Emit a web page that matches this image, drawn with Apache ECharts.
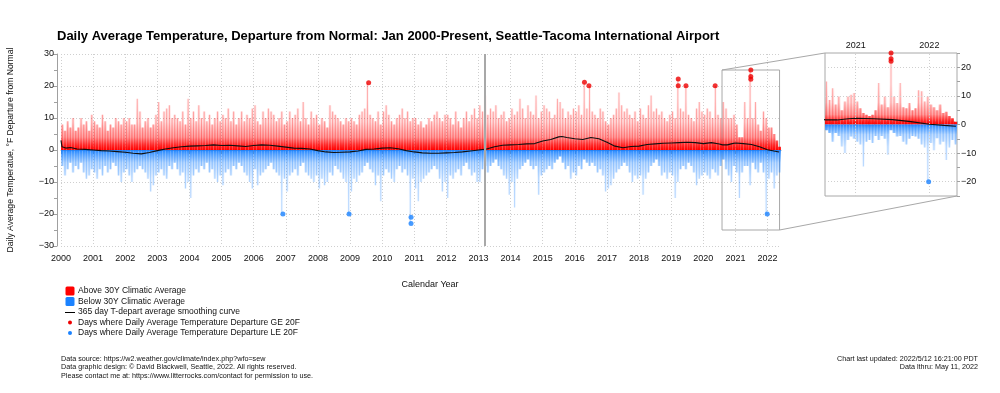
<!DOCTYPE html>
<html><head><meta charset="utf-8">
<script src="https://cdn.jsdelivr.net/npm/echarts@6/dist/echarts.min.js"></script>
<style>html,body{margin:0;padding:0;background:#fff}#c{width:1000px;height:393px}</style>
</head><body><div id="c"></div>
<script>
// ---------------- DATA ----------------
const START_YEAR = 2000;
const YEAR_TICKS = [2000,2001,2002,2003,2004,2005,2006,2007,2008,2009,2010,2011,2012,2013,2014,2015,2016,2017,2018,2019,2020,2021,2022];
// Monthly highest daily departure (°F), Jan 2000 .. May 2022
const MONTHLY_MAX = [
  8,6,9,7,10,6,7,10,8,9,6,11,
  9,8,7,11,9,6,8,7,10,9,8,10,
  9,10,8,8,16,12,7,9,10,7,8,11,
  15,9,12,13,14,10,11,10,9,12,8,16,
  10,12,9,14,10,12,9,11,8,10,12,9,
  11,10,13,9,12,8,10,12,9,11,10,13,
  14,9,8,12,10,13,12,11,9,10,12,8,
  9,12,10,11,13,9,15,10,8,12,10,11,
  8,10,9,7,14,12,11,10,9,8,10,9,
  10,9,8,11,12,13,21,11,10,9,12,8,
  12,14,11,9,8,10,11,13,10,12,9,10,
  10,8,9,7,8,10,9,11,12,10,9,11,
  11,10,8,12,9,7,10,12,9,11,13,10,
  14,12,17,11,13,12,14,10,11,12,9,10,
  13,11,12,16,13,10,14,12,11,17,10,12,
  14,13,12,10,11,16,15,13,10,12,11,13,
  12,14,11,21,13,20,12,11,10,13,12,9,
  8,10,11,13,18,14,12,13,11,10,12,9,
  13,11,10,14,17,12,13,11,12,10,9,11,
  12,10,22,13,12,20,11,10,9,13,15,12,
  11,13,12,10,20,11,10,15,13,10,10,11,
  8,4,4,15,10,25,10,15,8,6,12,10,
  7,7,5,3,1
];
// Monthly lowest daily departure (°F)
const MONTHLY_MIN = [
  -5,-8,-6,-4,-7,-5,-6,-4,-7,-9,-8,-6,
  -7,-9,-6,-8,-5,-7,-6,-4,-5,-8,-10,-7,
  -6,-8,-10,-7,-6,-5,-6,-7,-9,-13,-11,-8,
  -7,-6,-8,-9,-5,-6,-4,-6,-8,-7,-12,-10,
  -15,-8,-6,-7,-5,-6,-4,-7,-6,-9,-10,-8,
  -11,-7,-6,-8,-5,-6,-4,-5,-7,-8,-10,-12,
  -6,-11,-8,-7,-6,-5,-4,-6,-7,-8,-20,-9,
  -13,-8,-7,-6,-8,-5,-4,-7,-8,-9,-10,-8,
  -12,-9,-11,-10,-7,-8,-5,-6,-7,-9,-10,-20,
  -13,-9,-10,-8,-7,-5,-4,-6,-7,-11,-8,-16,
  -8,-6,-7,-9,-10,-6,-5,-7,-6,-8,-23,-9,
  -12,-16,-10,-9,-8,-7,-6,-5,-6,-9,-13,-10,
  -15,-8,-9,-7,-6,-8,-5,-4,-6,-8,-7,-10,
  -10,-6,-5,-7,-5,-4,-3,-5,-6,-8,-9,-14,
  -10,-18,-9,-6,-5,-4,-3,-5,-6,-5,-14,-8,
  -7,-6,-5,-6,-4,-3,-2,-4,-6,-5,-9,-7,
  -8,-5,-6,-3,-4,-5,-4,-5,-7,-6,-8,-13,
  -12,-11,-9,-7,-6,-5,-4,-5,-7,-10,-8,-9,
  -8,-14,-9,-7,-5,-4,-3,-5,-8,-7,-9,-7,
  -8,-15,-10,-6,-5,-6,-4,-5,-7,-11,-9,-8,
  -7,-8,-9,-6,-7,-8,-5,-3,-6,-8,-10,-5,
  -7,-15,-7,-5,-5,-11,-4,-6,-7,-4,-7,-20,
  -9,-7,-12,-8,-7
];
// 365-day smoothing curve
const SMOOTH_X = [2000.0,2000.03,2000.08,2000.15,2000.3,2000.5,2000.75,2001.0,2001.25,2001.5,2001.75,2002.0,2002.25,2002.5,2002.75,2003.0,2003.25,2003.5,2003.75,2004.0,2004.25,2004.5,2004.75,2005.0,2005.25,2005.5,2005.75,2006.0,2006.25,2006.5,2006.75,2007.0,2007.25,2007.5,2007.75,2008.0,2008.25,2008.5,2008.75,2009.0,2009.25,2009.5,2009.75,2010.0,2010.25,2010.5,2010.75,2011.0,2011.25,2011.5,2011.75,2012.0,2012.25,2012.5,2012.75,2013.0,2013.25,2013.5,2013.75,2014.0,2014.25,2014.5,2014.75,2015.0,2015.25,2015.5,2015.6,2015.75,2016.0,2016.25,2016.5,2016.75,2017.0,2017.25,2017.5,2017.75,2018.0,2018.25,2018.5,2018.75,2019.0,2019.25,2019.5,2019.75,2020.0,2020.25,2020.5,2020.6,2020.75,2020.9,2021.0,2021.25,2021.5,2021.75,2022.0,2022.2,2022.36];
const SMOOTH_Y = [3.0,1.0,1.5,0.6,0.8,0.3,0.2,0.0,-0.2,-0.3,-0.5,-0.7,-1.0,-1.2,-0.8,-0.2,0.3,0.7,1.0,1.2,1.3,1.4,1.6,1.4,1.5,1.3,1.1,1.4,1.6,1.5,1.2,0.9,0.6,0.5,0.3,-0.2,-0.6,-0.8,-0.7,-0.6,-0.3,0.2,0.3,0.6,0.7,0.4,-0.2,-0.6,-0.9,-1.0,-1.0,-0.9,-0.8,-0.6,-0.3,0.0,0.3,1.0,1.5,1.6,1.7,1.9,2.0,2.8,3.3,4.1,4.2,3.9,3.5,3.3,3.9,3.5,2.4,1.2,0.7,1.1,1.2,1.7,1.9,2.1,2.2,2.3,2.4,2.3,2.0,2.3,1.9,1.6,1.6,2.0,2.2,2.0,1.7,1.0,0.1,-0.3,-0.6];
// Individual days with departure >= 20F and <= -20F: [year fraction, departure]
const HOT_DAYS = [[2009.58,21],[2016.30,21.2],[2016.44,20.1],[2019.22,22.2],[2019.22,20.1],[2019.46,20.1],[2020.37,20.1],[2021.48,25],[2021.48,23],[2021.48,22.1]];
const COLD_DAYS = [[2006.91,-20],[2008.97,-20],[2010.9,-21],[2010.9,-23],[2021.99,-20]];
// Inset (Aug 2020 - May 2022), half-month highest / lowest departures
const INSET_START = 2020 + 7/12;
const INSET_END = 2022.375;
const INSET_MAX = [15,8.6,12.7,7,9.8,5,8,9.8,10.4,11,8,5.7,4,3.4,3,3.4,5,14.5,7,9.8,6,25,9.8,7.5,14.5,6,5.7,7.5,5,5.7,12,11.6,8,9.8,7,6,5,7,4,4.5,3,2.2,1];
const INSET_MIN = [-2,-3,-6,-3,-4,-7.7,-10,-5.4,-4.2,-5,-6,-7,-14.7,-6,-5.4,-6.5,-4,-5.4,-4,-5,-10.6,-2,-3,-4.2,-4,-6,-7,-5,-4,-4.2,-5,-7,-8,-20,-6.5,-9,-4.8,-7,-6,-12.4,-8,-5.4,-7];
const RED = [255,0,0], BLUE = [26,130,255];

// ---------------- CHART ----------------
const chart = echarts.init(document.getElementById('c'), null, {renderer:'canvas'});
const FONT = 'Liberation Sans, Arial, Helvetica, sans-serif';
const rgba = (c,a) => `rgba(${c[0]},${c[1]},${c[2]},${a})`;
const minus = v => String(v).replace('-', '\u2212');

function barRender(halfW, col, refVal, stops) {
  return function (params, api) {
    const x = api.value(0), v = api.value(1);
    const p0 = api.coord([x - halfW, 0]);
    const p1 = api.coord([x + halfW, v]);
    const ref = api.coord([x, v >= 0 ? refVal : -refVal]);
    const grad = new echarts.graphic.LinearGradient(0, p0[1], 0, ref[1],
      stops.map(s => ({offset: s[0], color: rgba(col, s[1])})), true);
    const top = Math.min(p0[1], p1[1]), h = Math.abs(p1[1] - p0[1]);
    const cx = (p0[0] + p1[0]) / 2;
    return {type: 'group', children: [
      {type: 'rect', shape: {x: p0[0], y: top, width: p1[0] - p0[0], height: h}, style: {fill: grad}},
      {type: 'rect', shape: {x: cx - 0.5, y: top, width: 1, height: h}, style: {fill: rgba(col, 0.3)}}
    ]};
  };
}
const RED_STOPS = [[0, 1], [0.1, 0.8], [0.25, 0.4], [0.55, 0.14], [1, 0.05]];
const BLUE_STOPS = [[0, 0.95], [0.08, 0.7], [0.25, 0.3], [0.55, 0.1], [1, 0.04]];

const monthX = i => START_YEAR + (i + 0.5) / 12;
const posMain = MONTHLY_MAX.map((v, i) => [monthX(i), v]);
const negMain = MONTHLY_MIN.map((v, i) => [monthX(i), v]);
const halfX = i => INSET_START + (i + 0.5) / 24;
const posInset = INSET_MAX.map((v, i) => [halfX(i), v]);
const negInset = INSET_MIN.map((v, i) => [halfX(i), v]);
const smooth = SMOOTH_X.map((x, i) => [x, SMOOTH_Y[i]]);

const gridDot = {show: true, lineStyle: {color: '#cfcfcf', type: [1, 2], width: 1}};
const axisGray = {show: true, lineStyle: {color: '#a0a0a0', width: 1}};
const lab = {color: '#111', fontSize: 9, fontFamily: FONT};

const option = {
  animation: false,
  backgroundColor: '#fff',
  title: {text: 'Daily Average Temperature, Departure from Normal: Jan 2000-Present, Seattle-Tacoma International Airport',
    left: 52, top: 25, textStyle: {fontSize: 13, fontWeight: 'bold', fontFamily: FONT, color: '#000'}},
  grid: [
    {left: 61, right: 219, top: 54, bottom: 147, containLabel: false, outerBoundsMode: 'none'},
    {left: 825, top: 53, width: 132, height: 143, containLabel: false, outerBoundsMode: 'none',
      show: true, borderColor: '#a8a8a8', borderWidth: 1, backgroundColor: 'transparent'}
  ],
  xAxis: [
    {type: 'value', gridIndex: 0, min: 2000, max: 2022.42, offset: 4,
      axisLine: axisGray,
      axisTick: {show: true, customValues: YEAR_TICKS, length: 4, lineStyle: {color: '#a0a0a0'}},
      axisLabel: Object.assign({customValues: YEAR_TICKS, margin: 4, formatter: v => String(Math.round(v))}, lab),
      splitLine: Object.assign({customValues: YEAR_TICKS}, gridDot),
      name: 'Calendar Year', nameLocation: 'middle', nameGap: 30,
      nameTextStyle: {fontSize: 9, fontFamily: FONT, color: '#111', padding: [0, 0, 0, 18]}},
    {type: 'value', gridIndex: 1, position: 'top', min: INSET_START, max: INSET_END, interval: 1/12,
      axisLine: {show: false},
      axisTick: {show: true, length: 3, lineStyle: {color: '#a0a0a0'}},
      axisLabel: Object.assign({margin: 3, formatter: v => Math.abs(v - Math.round(v)) < 1e-4 ? String(Math.round(v)) : ''}, lab),
      splitLine: {show: false}}
  ],
  yAxis: [
    {type: 'value', gridIndex: 0, min: -30, max: 30, interval: 10, offset: 4,
      axisLine: axisGray,
      axisTick: {show: true, length: 4, lineStyle: {color: '#a0a0a0'}},
      minorTick: {show: true, splitNumber: 2, length: 3, lineStyle: {color: '#a0a0a0'}},
      axisLabel: Object.assign({margin: 3, formatter: minus}, lab),
      splitLine: gridDot,
      name: 'Daily Average Temperatue, \u00B0F Departure from Normal', nameLocation: 'middle', nameGap: 42, nameRotate: 90,
      nameTextStyle: {fontSize: 8.6, fontFamily: FONT, color: '#111'}},
    {type: 'value', gridIndex: 1, position: 'right', min: -25, max: 25, interval: 5,
      axisLine: {show: false},
      axisTick: {show: true, length: 3, lineStyle: {color: '#a0a0a0'}},
      axisLabel: Object.assign({margin: 4, formatter: v => (Math.round(v) % 10 === 0 ? minus(Math.round(v)) : '')}, lab),
      splitLine: {show: false}}
  ],
  series: [
    {name: 'Above 30Y Climatic Average', type: 'custom', xAxisIndex: 0, yAxisIndex: 0, renderItem: barRender(1/24, RED, 16, RED_STOPS),
      data: posMain, encode: {x: 0, y: 1}, silent: true, z: 2},
    {name: 'Below 30Y Climatic Average', type: 'custom', xAxisIndex: 0, yAxisIndex: 0, renderItem: barRender(1/24, BLUE, 16, BLUE_STOPS),
      data: negMain, encode: {x: 0, y: 1}, silent: true, z: 2},
    {name: '365 day T-depart average smoothing curve', type: 'line', xAxisIndex: 0, yAxisIndex: 0, data: smooth,
      showSymbol: false, lineStyle: {color: '#111', width: 1.1}, silent: true, z: 4,
      markLine: {silent: true, symbol: 'none', label: {show: false}, lineStyle: {color: '#a8a8a8', type: 'solid', width: 2},
        data: [{xAxis: 2013.21}]},
      markArea: {silent: true, itemStyle: {color: 'rgba(0,0,0,0)', borderColor: '#a8a8a8', borderWidth: 1},
        data: [[{xAxis: INSET_START, yAxis: 25}, {xAxis: INSET_END, yAxis: -25}]]}},
    {name: 'Days where Daily Average Temperature Departure GE 20F', type: 'scatter', xAxisIndex: 0, yAxisIndex: 0,
      data: HOT_DAYS, symbolSize: 5, itemStyle: {color: '#ee0000'}, silent: true, z: 5},
    {name: 'Days where Daily Average Temperature Departure LE 20F', type: 'scatter', xAxisIndex: 0, yAxisIndex: 0,
      data: COLD_DAYS, symbolSize: 5, itemStyle: {color: '#1a82ff'}, silent: true, z: 5},
    // inset
    {type: 'custom', xAxisIndex: 1, yAxisIndex: 1, renderItem: barRender(1/48, RED, 14, RED_STOPS), data: posInset, encode: {x: 0, y: 1}, silent: true, z: 2},
    {type: 'custom', xAxisIndex: 1, yAxisIndex: 1, renderItem: barRender(1/48, BLUE, 14, BLUE_STOPS), data: negInset, encode: {x: 0, y: 1}, silent: true, z: 2},
    {type: 'line', xAxisIndex: 1, yAxisIndex: 1, data: smooth, showSymbol: false, lineStyle: {color: '#111', width: 1.1}, silent: true, z: 4,
      markLine: {silent: true, symbol: 'none', label: {show: false}, lineStyle: {color: '#cfcfcf', type: [1, 2], width: 1},
        data: [{yAxis: 20}, {yAxis: 10}, {yAxis: -10}, {yAxis: -20}, {xAxis: 2021}, {xAxis: 2022}]}},
    {type: 'scatter', xAxisIndex: 1, yAxisIndex: 1, data: HOT_DAYS, symbolSize: 5, itemStyle: {color: '#ee0000'}, silent: true, z: 5},
    {type: 'scatter', xAxisIndex: 1, yAxisIndex: 1, data: COLD_DAYS, symbolSize: 5, itemStyle: {color: '#1a82ff'}, silent: true, z: 5}
  ]
};
chart.setOption(option);

// connectors + legend + footer
const mA = chart.convertToPixel({xAxisIndex: 0, yAxisIndex: 0}, [INSET_START, 25]);
const mB = chart.convertToPixel({xAxisIndex: 0, yAxisIndex: 0}, [INSET_END, -25]);
const iA = chart.convertToPixel({xAxisIndex: 1, yAxisIndex: 1}, [INSET_START, 25]);
const iB = chart.convertToPixel({xAxisIndex: 1, yAxisIndex: 1}, [INSET_END, -25]);
const txt = (x, y, s, size, align) => ({type: 'text', x: x, y: y, silent: true,
  style: {text: s, fill: '#111', fontSize: size, fontFamily: FONT, textAlign: align || 'left', textVerticalAlign: 'middle'}});
const LEG_Y = [291, 301.5, 312, 322.5, 333];
const LF = 8.5, FF = 7.2;
chart.setOption({graphic: [
  {type: 'line', silent: true, shape: {x1: mA[0], y1: mA[1], x2: iA[0], y2: iA[1]}, style: {stroke: '#a8a8a8', lineWidth: 1}},
  {type: 'line', silent: true, shape: {x1: mB[0], y1: mB[1], x2: iB[0], y2: iB[1]}, style: {stroke: '#a8a8a8', lineWidth: 1}},
  {type: 'rect', silent: true, shape: {x: 65.5, y: LEG_Y[0] - 4.5, width: 9, height: 9, r: 1.5}, style: {fill: rgba(RED, 1)}},
  {type: 'rect', silent: true, shape: {x: 65.5, y: LEG_Y[1] - 4.5, width: 9, height: 9, r: 1.5}, style: {fill: rgba(BLUE, 1)}},
  {type: 'line', silent: true, shape: {x1: 65, y1: LEG_Y[2] + 0.5, x2: 75, y2: LEG_Y[2] + 0.5}, style: {stroke: '#000', lineWidth: 1}},
  {type: 'circle', silent: true, shape: {cx: 70, cy: LEG_Y[3], r: 2}, style: {fill: '#ee0000'}},
  {type: 'circle', silent: true, shape: {cx: 70, cy: LEG_Y[4], r: 2}, style: {fill: '#1a82ff'}},
  txt(78, LEG_Y[0], 'Above 30Y Climatic Average', LF),
  txt(78, LEG_Y[1], 'Below 30Y Climatic Average', LF),
  txt(78, LEG_Y[2], '365 day T-depart average smoothing curve', LF),
  txt(78, LEG_Y[3], 'Days where Daily Average Temperature Departure GE 20F', LF),
  txt(78, LEG_Y[4], 'Days where Daily Average Temperature Departure LE 20F', LF),
  txt(61, 359, 'Data source: https://w2.weather.gov/climate/index.php?wfo=sew', FF),
  txt(61, 367.5, 'Data graphic design: \u00A9 David Blackwell, Seattle, 2022. All rights reserved.', FF),
  txt(61, 376, 'Please contact me at: https://www.litterrocks.com/contact for permission to use.', FF),
  txt(978, 359, 'Chart last updated: 2022/5/12 16:21:00 PDT', FF, 'right'),
  txt(978, 367.5, 'Data lthru: May 11, 2022', FF, 'right')
]});
</script>
</body></html>
